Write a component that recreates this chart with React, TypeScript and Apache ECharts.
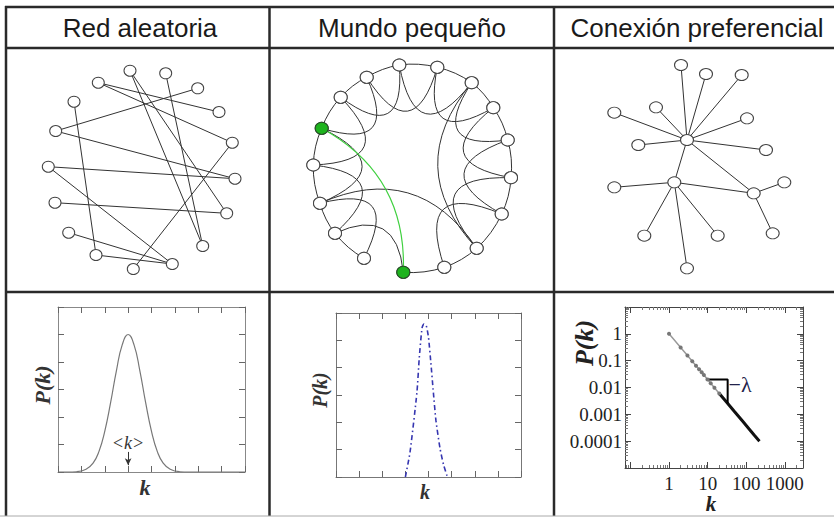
import React, { useEffect, useRef } from 'react';
import * as echarts from 'echarts';

const W = 834;
const H = 517;

// ---------- table headers ----------
const headers = ['Red aleatoria', 'Mundo pequeño', 'Conexión preferencial'];
const headerCenters = [140, 412, 697];

// ---------- random network (page pixel layout) ----------
const randomNodes: [number, number][] = [
  [130, 70.7], [165.7, 73.3], [98.3, 82.7], [197.7, 88.3], [74, 101.7], [219, 112],
  [55.7, 131], [232.3, 142.7], [48.3, 166.7], [235, 178.7], [55, 202.7], [226.7, 213.3],
  [68.7, 232.7], [202.7, 246], [96, 255], [172.3, 264], [133.3, 269],
];
const randomEdges: [number, number][] = [
  [2, 5], [2, 7], [0, 13], [0, 11], [1, 13], [3, 6], [4, 14], [6, 9], [8, 9], [8, 15],
  [10, 11], [7, 16], [12, 15], [14, 15],
];

// ---------- small-world network (ring order, clockwise) ----------
const smallWorldNodes: [number, number][] = [
  [399.3, 65], [437.3, 67.3], [471.7, 82.7], [493.3, 107.7], [507.7, 140], [511, 177.7],
  [501.7, 214], [476.7, 248.3], [444.3, 267.3], [403.3, 272.3], [364, 258.3], [335, 233.3],
  [320, 203.3], [313.3, 165], [321.7, 128.3], [340.7, 97.3], [366.7, 77.3],
];
const greenNodes = [9, 14];
// [source, target, curveness]
const smallWorldEdges: [number, number, number][] = [
  [0, 1, 0.1], [1, 2, 0.1], [2, 3, 0.1], [3, 4, 0.1], [4, 5, 0.1], [5, 6, 0.1], [6, 7, 0.1],
  [7, 8, 0.1], [8, 9, 0.1], [10, 11, 0.1], [11, 12, 0.1], [12, 13, 0.1], [13, 14, 0.1],
  [14, 15, 0.1], [15, 16, 0.1], [16, 0, 0.1],
  [0, 2, -1.1], [1, 3, -1.1], [2, 4, -1.1], [3, 5, -1.1], [4, 6, -1.1], [5, 7, -1.1],
  [6, 8, -1.1], [10, 12, -1.1], [11, 13, -1.1], [12, 14, -1.1], [13, 15, -1.1],
  [14, 16, -1.1], [15, 0, -1.1], [16, 1, -1.1], [9, 11, -0.7],
  [12, 7, 0.42], [7, 2, 0.44],
];
const greenEdge: [number, number, number] = [14, 9, 0.31];

// ---------- scale-free network ----------
const scaleFreeNodes: [number, number][] = [
  [687, 140], [674.3, 182.3], [753.7, 193.3], [681, 65], [706, 74], [741.7, 75], [656, 107.3],
  [614.3, 112.7], [747, 118.3], [638.3, 145], [766, 150], [614.3, 187.3], [644.3, 235.7],
  [717.7, 235.7], [687, 268.3], [784.3, 182.3], [772.7, 233.3],
];
const scaleFreeEdges: [number, number][] = [
  [0, 1], [0, 2], [0, 3], [0, 4], [0, 5], [0, 6], [0, 7], [0, 8], [0, 9], [0, 10],
  [1, 2], [1, 11], [1, 12], [1, 13], [1, 14], [2, 15], [2, 16],
];

// ---------- degree distributions ----------
const randomK = [0, 0.4, 0.8, 1.2, 1.5, 1.75, 2.0, 2.25, 2.5, 2.75, 3.0, 3.25, 3.5, 3.75, 4.0, 4.25, 4.5, 4.8, 5.2, 5.6, 8];
const randomP = [0, 0, 0.01, 0.1, 0.32, 0.74, 1.48, 2.52, 3.69, 4.63, 5.0, 4.63, 3.69, 2.52, 1.48, 0.74, 0.32, 0.1, 0.01, 0, 0];

const swK = [3.0, 3.2, 3.5, 3.6, 3.72, 3.8, 3.9, 4.0, 4.1, 4.2, 4.32, 4.5, 4.65, 4.8];
const swP = [0, 0.9, 3.1, 4.35, 5.45, 5.6, 5.55, 5.1, 4.2, 3.2, 2.08, 1.04, 0.45, 0.05];

const sfHeadK = [1, 2, 3, 4, 5, 6, 7, 8, 10, 12, 15, 20];
const sfHeadP = [1, 0.31, 0.155, 0.095, 0.065, 0.048, 0.037, 0.029, 0.02, 0.0145, 0.0098, 0.006];
const sfTailK = [20, 30, 50, 80, 120, 160, 220];
const sfTailP = [0.006, 0.003, 0.00125, 0.00056, 0.00028, 0.00017, 0.0001];
const slopeK = [9, 33, 33];
const slopeP = [0.02, 0.02, 0.0026];

const xLogLabels = ['1', '10', '100', '1000'];
const yLogLabels = ['1', '0.1', '0.01', '0.001', '0.0001'];

const SERIF = "'Liberation Serif', 'DejaVu Serif', serif";
const SANS = "'Liberation Sans', Arial, sans-serif";

function linAxis(grid: number, pos: string, max: number, color: string) {
  return {
    type: 'value', gridIndex: grid, position: pos, min: 0, max, interval: 1,
    axisLine: { show: true, onZero: false, lineStyle: { color, width: 1 } },
    axisTick: { show: true, inside: true, length: 6, lineStyle: { color: '#666', width: 1 } },
    axisLabel: { show: false }, splitLine: { show: false },
  };
}

function logFmt(labels: string[], sign: number) {
  return (v: number) => {
    const l = Math.log10(v);
    const e = Math.round(l);
    if (Math.abs(l - e) > 1e-6) return '';
    const idx = sign * e;
    return idx >= 0 && idx < labels.length ? labels[idx] : '';
  };
}

function logAxis(grid: number, pos: string, min: number, max: number, labels: string[] | null, sign: number, margin: number) {
  return {
    type: 'log', logBase: 10, gridIndex: grid, position: pos, min, max,
    axisLine: { show: true, onZero: false, lineStyle: { color: '#444', width: 1 } },
    axisTick: { show: true, inside: true, length: 6, lineStyle: { color: '#444', width: 1 } },
    minorTick: { show: true, splitNumber: 9, length: 3, lineStyle: { color: '#777', width: 1 } },
    axisLabel: labels
      ? { show: true, formatter: logFmt(labels, sign), fontFamily: SERIF, fontSize: 19, color: '#222', margin }
      : { show: false },
    splitLine: { show: false },
  };
}

function graphSeries(nodes: [number, number][], edges: [number, number, number][], prefix: string, size: number[]) {
  return {
    type: 'graph', coordinateSystem: 'cartesian2d', xAxisIndex: 6, yAxisIndex: 6,
    silent: true, z: 5, symbol: 'circle', symbolSize: size,
    itemStyle: { color: '#fff', borderColor: '#444', borderWidth: 1 },
    lineStyle: { color: '#333', width: 1, opacity: 1 },
    label: { show: false },
    data: nodes.map((p, i) => ({
      name: prefix + i,
      value: p,
      itemStyle: prefix === 's' && greenNodes.includes(i)
        ? { color: '#1db31d', borderColor: '#2a4a2a', borderWidth: 1 } : undefined,
    })),
    links: edges.map(([s, t, c]) => ({ source: prefix + s, target: prefix + t, lineStyle: { curveness: c } })),
  };
}

function text(x: number, y: number, t: string, font: string, color: string, rot = 0) {
  return {
    type: 'text', x, y, rotation: rot, silent: true, z: 20,
    style: { text: t, font, fill: color, align: 'center', verticalAlign: 'middle' },
  };
}

function line(x1: number, y1: number, x2: number, y2: number, color = '#2a2a2a', w = 2.5) {
  return { type: 'line', silent: true, z: 30, shape: { x1, y1, x2, y2 }, style: { stroke: color, lineWidth: w } };
}

const option: any = {
  animation: false,
  backgroundColor: '#fff',
  grid: [
    { left: 58, top: 307, width: 187, height: 165 },
    { left: 336, top: 313, width: 185, height: 164 },
    { left: 625, top: 307, width: 178, height: 161 },
    { left: 0, top: 0, width: W, height: H },
  ],
  xAxis: [
    linAxis(0, 'bottom', 8, '#888'),
    linAxis(0, 'top', 8, '#888'),
    linAxis(1, 'bottom', 8, '#777'),
    linAxis(1, 'top', 8, '#777'),
    logAxis(2, 'bottom', 0.0724, 2950, xLogLabels, 1, 6),
    logAxis(2, 'top', 0.0724, 2950, null, 1, 0),
    { type: 'value', gridIndex: 3, min: 0, max: W, show: false },
  ],
  yAxis: [
    linAxis(0, 'left', 6, '#888'),
    linAxis(0, 'right', 6, '#888'),
    linAxis(1, 'left', 6, '#777'),
    linAxis(1, 'right', 6, '#777'),
    logAxis(2, 'left', 0.00001, 10, yLogLabels, -1, 3),
    logAxis(2, 'right', 0.00001, 10, null, -1, 0),
    { type: 'value', gridIndex: 3, min: 0, max: H, inverse: true, show: false },
  ],
  series: [
    {
      type: 'line', xAxisIndex: 0, yAxisIndex: 0, smooth: true, symbol: 'none', silent: true,
      lineStyle: { color: '#777', width: 1.2 },
      data: randomK.map((k, i) => [k, randomP[i]]),
      markLine: {
        silent: true, symbol: ['none', 'arrow'], symbolSize: [5, 7],
        lineStyle: { color: '#333', width: 1, type: 'solid' }, label: { show: false },
        data: [[{ coord: [3, 0.73] }, { coord: [3, 0.25] }]],
      },
    },
    {
      type: 'line', xAxisIndex: 2, yAxisIndex: 2, smooth: 0.2, symbol: 'none', silent: true,
      lineStyle: { color: '#3535b0', width: 1.6, type: [5, 3, 1.5, 3] },
      data: swK.map((k, i) => [k, swP[i]]),
    },
    {
      type: 'line', xAxisIndex: 4, yAxisIndex: 4, symbol: 'circle', symbolSize: 4, silent: true,
      itemStyle: { color: '#777' }, lineStyle: { color: '#999', width: 1.5 },
      data: sfHeadK.map((k, i) => [k, sfHeadP[i]]),
    },
    {
      type: 'line', xAxisIndex: 4, yAxisIndex: 4, symbol: 'none', silent: true,
      lineStyle: { color: '#111', width: 3 },
      data: sfTailK.map((k, i) => [k, sfTailP[i]]),
    },
    {
      type: 'line', xAxisIndex: 4, yAxisIndex: 4, symbol: 'none', silent: true,
      lineStyle: { color: '#000', width: 2 },
      data: slopeK.map((k, i) => [k, slopeP[i]]),
    },
    graphSeries(randomNodes, randomEdges.map(([s, t]) => [s, t, 0] as [number, number, number]), 'r', [12, 11]),
    graphSeries(smallWorldNodes, smallWorldEdges, 's', [13, 12]),
    {
      ...graphSeries(smallWorldNodes, [greenEdge], 's', [13, 12]),
      z: 6,
      lineStyle: { color: '#3fd03f', width: 1.2, opacity: 1 },
    },
    graphSeries(scaleFreeNodes, scaleFreeEdges.map(([s, t]) => [s, t, 0] as [number, number, number]), 'f', [13, 11]),
  ],
  graphic: [
    ...headers.map((h, i) => text(headerCenters[i], 28, h, `26px ${SANS}`, '#1a1a1a')),
    text(42, 385, 'P(k)', `italic bold 22px ${SERIF}`, '#333', Math.PI / 2),
    text(145, 487, 'k', `italic bold 22px ${SERIF}`, '#333'),
    text(128, 443, '<k>', `italic 18px ${SERIF}`, '#333'),
    text(320, 390, 'P(k)', `italic bold 20px ${SERIF}`, '#333', Math.PI / 2),
    text(425, 492, 'k', `italic bold 20px ${SERIF}`, '#333'),
    text(584, 343, 'P(k)', `italic bold 26px ${SERIF}`, '#222', Math.PI / 2),
    text(711, 504, 'k', `italic bold 21px ${SERIF}`, '#222'),
    text(740, 384, '\u2212\u03bb', `22px ${SERIF}`, '#22224a'),
    line(5, 7, W, 7),
    line(5, 48, W, 48),
    line(5, 292, W, 292),
    line(6, 6, 6, 516),
    line(269.5, 6, 269.5, 516),
    line(554, 6, 554, 516),
    line(0, 516, W, 516, '#aaa', 1),
  ],
};

export default function App() {
  const ref = useRef<HTMLDivElement>(null);
  useEffect(() => {
    document.body.style.margin = '0';
    const chart = echarts.init(ref.current!, null, { renderer: 'svg' });
    chart.setOption(option);
    return () => chart.dispose();
  }, []);
  return <div ref={ref} style={{ width: W, height: H }} />;
}
